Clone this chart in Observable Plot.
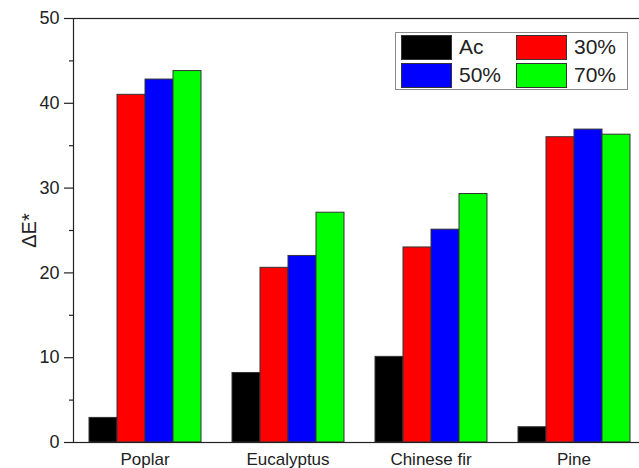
<!DOCTYPE html>
<html>
<head>
<meta charset="utf-8">
<script src="https://cdn.jsdelivr.net/npm/d3@7"></script>
<script src="https://cdn.jsdelivr.net/npm/@observablehq/plot@0.6"></script>
<style>
  html, body { margin: 0; padding: 0; background: #fff; }
  #wrap { position: relative; width: 639px; height: 468px; overflow: hidden; font-family: "Liberation Sans", Arial, sans-serif; }
  #legend { position: absolute; left: 395px; top: 32px; width: 231px; height: 56px; border: 1px solid #8a8a8a; background: #fff;
    display: grid; grid-template-columns: 115px 116px; grid-template-rows: 28px 28px; padding: 0; box-sizing: content-box; }
  .item { display: flex; align-items: center; font-size: 21px; color: #222; }
  .sw { width: 49px; height: 23px; border: 1px solid #333; margin: 0 7px 0 5px; }
</style>
</head>
<body>
<div id="wrap"></div>
<script>
const categories = ["Poplar", "Eucalyptus", "Chinese fir", "Pine"];
const series = ["Ac", "30%", "50%", "70%"];
const colors = ["#000000", "#ff0000", "#0000ff", "#00ff00"];
const acValues = [2.9, 8.2, 10.1, 1.8];
const p30Values = [41.0, 20.6, 23.0, 36.0];
const p50Values = [42.8, 22.0, 25.1, 36.9];
const p70Values = [43.8, 27.1, 29.3, 36.3];
const yTicks = [0, 10, 20, 30, 40, 50];
const yMinorTicks = [5, 15, 25, 35, 45];

const seriesValues = [acValues, p30Values, p50Values, p70Values];
const data = [];
categories.forEach((c, i) => {
  series.forEach((s, j) => data.push({category: c, series: s, value: seriesValues[j][i]}));
});

const font = '"Liberation Sans", Arial, sans-serif';
const chart = Plot.plot({
  width: 639,
  height: 468,
  marginLeft: 72,
  marginRight: -7,
  marginTop: 18,
  marginBottom: 26,
  style: {fontFamily: font, fontSize: "17px", color: "#222", background: "#fff", overflow: "hidden"},
  fx: {domain: categories, padding: 0, label: null},
  x: {domain: series, paddingInner: 0, paddingOuter: 0.475, axis: null},
  y: {domain: [0, 50], axis: null},
  color: {domain: series, range: colors},
  marks: [
    Plot.barY(data, {fx: "category", x: "series", y: "value", fill: "series", stroke: "#333", strokeWidth: 1}),
    Plot.axisFx({anchor: "bottom", tickSize: 0, tickPadding: 10, label: null, fontSize: 17}),
    Plot.axisY({ticks: yTicks, tickSize: 9, tickPadding: 5, strokeWidth: 1.2, fontSize: 18,
      label: null}),
    Plot.axisY({ticks: yMinorTicks, tickSize: 4, tickFormat: () => "", label: null, strokeWidth: 1.2}),
    Plot.axisY({ticks: [], label: "ΔE*", labelAnchor: "center", labelArrow: "none", labelOffset: 52, fontSize: 20}),
    Plot.frame({facet: "super", stroke: "#222", strokeWidth: 1.2})
  ]
});

const wrap = document.getElementById("wrap");
wrap.appendChild(chart);

const legend = document.createElement("div");
legend.id = "legend";
series.forEach((s, j) => {
  const item = document.createElement("div");
  item.className = "item";
  const sw = document.createElement("span");
  sw.className = "sw";
  sw.style.background = colors[j];
  const t = document.createElement("span");
  t.textContent = s;
  item.appendChild(sw);
  item.appendChild(t);
  legend.appendChild(item);
});
wrap.appendChild(legend);
</script>
</body>
</html>
